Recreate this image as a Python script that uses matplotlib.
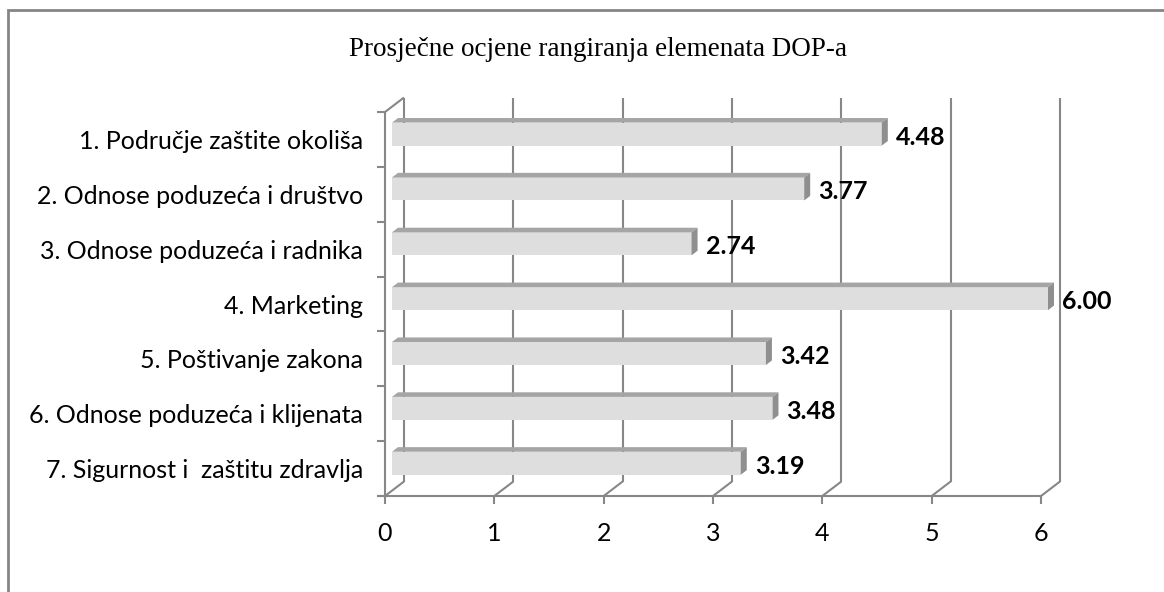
import matplotlib
matplotlib.use("Agg")
import matplotlib.pyplot as plt
from matplotlib.patches import Polygon
from matplotlib.lines import Line2D

categories = [
    "1. Područje zaštite okoliša",
    "2. Odnose poduzeća i društvo",
    "3. Odnose poduzeća i radnika",
    "4. Marketing",
    "5. Poštivanje zakona",
    "6. Odnose poduzeća i klijenata",
    "7. Sigurnost i  zaštitu zdravlja",
]
values = [4.48, 3.77, 2.74, 6.00, 3.42, 3.48, 3.19]
value_labels = ["4.48", "3.77", "2.74", "6.00", "3.42", "3.48", "3.19"]
xticks = [0, 1, 2, 3, 4, 5, 6]
title = "Prosječne ocjene rangiranja elemenata DOP-a"

W, H = 1164, 592
DPI = 100
fig = plt.figure(figsize=(W / DPI, H / DPI), dpi=DPI)

# front plane of the pseudo-3D plot (pixels)
x0_px, x6_px = 385, 1041
ytop_px, ybot_px = 112, 496
ax = fig.add_axes([x0_px / W, (H - ybot_px) / H, (x6_px - x0_px) / W, (ybot_px - ytop_px) / H])
n = len(categories)
ax.set_xlim(0, 6)
ax.set_ylim(n - 0.5, -0.5)

px_x = (x6_px - x0_px) / 6.0          # pixels per x unit
px_y = (ybot_px - ytop_px) / n        # pixels per category
DX = 19 / px_x                        # depth offset in data units
DY = 14.5 / px_y

gc = "#878787"
glw = 1.5
kw = dict(color=gc, lw=glw, clip_on=False, solid_capstyle="butt", zorder=1)

# back wall gridlines + floor diagonals
for t in xticks:
    ax.add_line(Line2D([t + DX, t + DX], [n - 0.5 - DY, -0.5 - DY], **kw))
    ax.add_line(Line2D([t, t + DX], [n - 0.5, n - 0.5 - DY], **kw))
    # front tick marks
    ax.add_line(Line2D([t, t], [n - 0.5, n - 0.5 + 8 / px_y], **kw))
# top-left diagonal of left wall
ax.add_line(Line2D([0, DX], [-0.5, -0.5 - DY], **kw))
# front axes
tk = 8 / px_x
ax.add_line(Line2D([-tk, 6], [n - 0.5, n - 0.5], **kw))
ax.add_line(Line2D([0, 0], [-0.5, n - 0.5], **kw))
for k in range(n + 1):
    ax.add_line(Line2D([-tk, 0], [k - 0.5, k - 0.5], **kw))

# bars
f = 7 / 19.0      # depth position of bar front face
g = 6 / 19.0      # bar depth thickness
h = 23 / px_y
left = f * DX
front_c, top_c, side_c = "#dedede", "#a5a5a5", "#8f8f8f"
for i, v in enumerate(values):
    yc = i - f * DY
    bars = ax.barh(yc, v, left=left, height=h, color=front_c, edgecolor="none", zorder=3)
    for b in bars:
        b.set_clip_on(False)
    yt = yc - h / 2
    yb = yc + h / 2
    top = Polygon([(left, yt), (left + v, yt), (left + v + g * DX, yt - g * DY), (left + g * DX, yt - g * DY)],
                  closed=True, facecolor=top_c, edgecolor="none", zorder=3, clip_on=False)
    side = Polygon([(left + v, yt), (left + v, yb), (left + v + g * DX, yb - g * DY), (left + v + g * DX, yt - g * DY)],
                   closed=True, facecolor=side_c, edgecolor="none", zorder=3, clip_on=False)
    ax.add_patch(top)
    ax.add_patch(side)
    ax.text(left + v + 14 / px_x, yc + 3 / px_y, value_labels[i], ha="left", va="center",
            fontsize=18, fontweight="bold", family="Lato", color="black", zorder=4)

for s in ax.spines.values():
    s.set_visible(False)
ax.patch.set_visible(False)
ax.set_xticks(xticks)
ax.set_xticklabels([str(t) for t in xticks], family="Lato", fontsize=18)
ax.set_yticks(range(n))
ax.set_yticklabels(categories, family="Lato", fontsize=18)
ax.tick_params(axis="x", length=0, pad=19)
ax.tick_params(axis="y", length=0, pad=16)
for lab in ax.get_yticklabels():
    lab.set_y(lab.get_position()[1])

fig.text(598 / W, 1 - 50 / H, title, ha="center", va="center", family="Liberation Serif", fontsize=19.5)

# outer border (top and left only visible)
fig.add_artist(Line2D([7.5 / W, 7.5 / W, 1.0], [0, 1 - 9.5 / H, 1 - 9.5 / H], transform=fig.transFigure,
                      color="#858585", lw=2.0, solid_joinstyle="miter"))

fig.savefig("out.png", dpi=DPI)
